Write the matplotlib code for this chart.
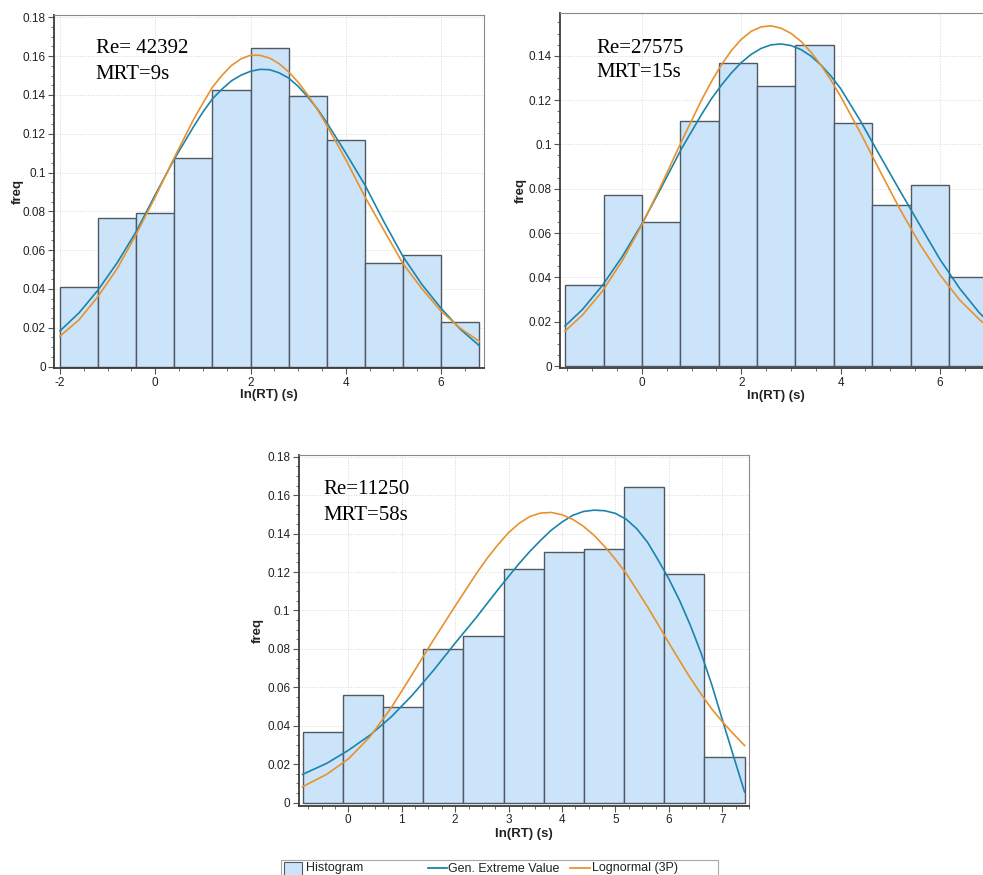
import numpy as np
import matplotlib
matplotlib.use("Agg")
import matplotlib.pyplot as plt
from matplotlib.ticker import MultipleLocator, FuncFormatter
from matplotlib.patches import Rectangle
from matplotlib.lines import Line2D

plt.rcParams["font.family"] = ["Liberation Sans", "DejaVu Sans"]

# ---- panel 1 : Re = 42392 ----
edges1 = [-2.0, -1.2, -0.4, 0.4, 1.2, 2.0, 2.8, 3.6, 4.4, 5.2, 6.0, 6.8]
freq1 = [0.041, 0.0766, 0.079, 0.1073, 0.1426, 0.164, 0.1396, 0.117, 0.0532, 0.0574, 0.023]
x1 = [-2.0, -1.6, -1.2, -0.8, -0.4, 0.0, 0.4, 0.8,
      1.0, 1.2, 1.4, 1.6, 1.8, 2.0, 2.2, 2.4, 2.6, 2.8, 3.0, 3.2, 3.4,
      3.6, 4.0, 4.4, 4.8, 5.2, 5.6, 6.0, 6.4, 6.8]
gev1 = [0.0184, 0.0277, 0.0395, 0.0535, 0.0696, 0.0886, 0.1070, 0.1235,
        0.1312, 0.1380, 0.1430, 0.1473, 0.1502, 0.1522, 0.1532, 0.1530, 0.1514, 0.1487, 0.1444, 0.1390, 0.1329,
        0.1257, 0.1100, 0.0936, 0.0746, 0.0567, 0.0422, 0.0300, 0.0193, 0.0108]
logn1 = [0.0157, 0.0241, 0.0362, 0.0505, 0.0682, 0.0875, 0.1078, 0.1272,
         0.1358, 0.1440, 0.1501, 0.1552, 0.1586, 0.1605, 0.1604, 0.1590, 0.1561, 0.1519, 0.1465, 0.1400, 0.1326,
         0.1243, 0.1066, 0.0875, 0.0702, 0.0530, 0.0400, 0.0285, 0.0198, 0.0130]

# ---- panel 2 : Re = 27575 ----
edges2 = [-1.546, -0.773, 0.0, 0.773, 1.546, 2.319, 3.092, 3.865, 4.638, 5.411, 6.184, 6.957]
freq2 = [0.0365, 0.0773, 0.0651, 0.1106, 0.1367, 0.1264, 0.1448, 0.1097, 0.0728, 0.0815, 0.0402]
x2 = [-1.55, -1.2, -0.8, -0.4, 0.0, 0.4, 0.8,
      1.2, 1.4, 1.6, 1.8, 2.0, 2.2, 2.4, 2.6, 2.8, 3.0, 3.2, 3.4, 3.6, 3.8, 4.0,
      4.4, 4.8, 5.2, 5.6, 6.0, 6.4, 6.8, 6.96]
gev2 = [0.0181, 0.0255, 0.0363, 0.0493, 0.0642, 0.0810, 0.0982,
        0.1135, 0.1206, 0.1267, 0.1322, 0.1369, 0.1406, 0.1433, 0.1449, 0.1453, 0.1446, 0.1428, 0.1399, 0.1359,
        0.1310, 0.1252,
        0.1106, 0.0946, 0.0789, 0.0635, 0.0482, 0.0350, 0.0239, 0.0204]
logn2 = [0.0158, 0.0230, 0.0337, 0.0474, 0.0638, 0.0822, 0.1015,
         0.1200, 0.1284, 0.1359, 0.1423, 0.1474, 0.1510, 0.1530, 0.1535, 0.1524, 0.1501, 0.1465, 0.1417, 0.1359,
         0.1292, 0.1217,
         0.1052, 0.0877, 0.0706, 0.0549, 0.0412, 0.0298, 0.0209, 0.0179]

# ---- panel 3 : Re = 11250 ----
edges3 = [-0.855, -0.103, 0.649, 1.401, 2.153, 2.905, 3.657, 4.409, 5.161, 5.913, 6.665, 7.417]
freq3 = [0.0369, 0.0558, 0.0496, 0.0799, 0.0869, 0.1214, 0.1302, 0.1318, 0.1642, 0.1191, 0.0236]
x3 = [-0.855, -0.4, 0.0, 0.4, 0.8, 1.2, 1.6, 2.0, 2.4,
      2.6, 2.8, 3.0, 3.2, 3.4, 3.6, 3.8, 4.0, 4.2, 4.4, 4.6, 4.8, 5.0, 5.2,
      5.4, 5.6, 5.8, 6.0, 6.2, 6.4, 6.6, 6.8, 7.0, 7.2, 7.417]
gev3 = [0.0147, 0.0205, 0.0272, 0.0350, 0.0445, 0.0560, 0.0690, 0.0830, 0.0965,
        0.1037, 0.1108, 0.1177, 0.1245, 0.1308, 0.1365, 0.1418, 0.1460, 0.1495, 0.1515, 0.1522, 0.1519, 0.1505,
        0.1475, 0.1425, 0.1355, 0.1262, 0.1164, 0.1052, 0.0924, 0.0780, 0.0616, 0.0432, 0.0250, 0.0055]
logn3 = [0.0083, 0.0148, 0.0227, 0.0341, 0.0492, 0.0669, 0.0849, 0.1023, 0.1193,
         0.1272, 0.1342, 0.1405, 0.1454, 0.1489, 0.1507, 0.1510, 0.1498, 0.1474, 0.1438, 0.1391, 0.1332, 0.1266,
         0.1193, 0.1107, 0.1019, 0.0926, 0.0831, 0.0739, 0.0649, 0.0566, 0.0488, 0.0421, 0.0360, 0.0297]

labels = [("Re= 42392", "MRT=9s"), ("Re=27575", "MRT=15s"), ("Re=11250", "MRT=58s")]

BAR_FACE = "#cce4fa"
BAR_EDGE = "#4f5963"
GEV_COLOR = "#1a84ab"
LOGN_COLOR = "#e8922c"

W, H = 983, 875
fig = plt.figure(figsize=(W / 100, H / 100), dpi=100)


def fx(px):
    return px / W


def fy(py):
    return 1 - py / H


def make_axes(left, top, right, bottom):
    return fig.add_axes([fx(left), fy(bottom), (right - left) / W, (bottom - top) / H])


def draw_panel(ax, edges, freq, x, gev, logn, xlim, ylim, xmajor, xminor, ymax_tick,
               ylab_x, xlab_y):
    edges = np.array(edges)
    ax.bar(edges[:-1], freq, width=np.diff(edges), align="edge",
           color=BAR_FACE, edgecolor=BAR_EDGE, linewidth=1.0, zorder=2)
    ax.plot(x, gev, color=GEV_COLOR, lw=1.2, zorder=3)
    ax.plot(x, logn, color=LOGN_COLOR, lw=1.2, zorder=3)
    ax.set_xlim(*xlim)
    ax.set_ylim(*ylim)
    ax.xaxis.set_major_locator(MultipleLocator(xmajor))
    ax.xaxis.set_minor_locator(MultipleLocator(xminor))
    ax.set_yticks(np.arange(0, ymax_tick + 0.001, 0.02))
    ax.yaxis.set_minor_locator(MultipleLocator(0.005))
    fmt = FuncFormatter(lambda v, p: f"{round(v, 4):g}")
    ax.yaxis.set_major_formatter(fmt)
    ax.xaxis.set_major_formatter(fmt)
    ax.grid(True, which="major", color="#d8d8d8", linestyle=":", linewidth=0.7, zorder=0)
    ax.set_axisbelow(True)
    ax.tick_params(which="both", direction="out", colors="#555555", labelcolor="#222222",
                   labelsize=8.5, pad=2)
    ax.tick_params(which="major", length=4, width=0.8)
    ax.tick_params(which="minor", length=2, width=0.6)
    for s in ("left", "bottom"):
        ax.spines[s].set_color("#3c3c3c")
        ax.spines[s].set_linewidth(1.3)
    for s in ("top", "right"):
        ax.spines[s].set_color("#8a8a8a")
        ax.spines[s].set_linewidth(0.8)
    ax.set_xlabel("ln(RT) (s)", fontsize=9.5, fontweight="bold", color="#222222")
    ax.set_ylabel("freq", fontsize=9.5, fontweight="bold", color="#222222")
    ax.yaxis.set_label_coords(ylab_x, 0.5)
    ax.xaxis.set_label_coords(0.5, xlab_y)


ax1 = make_axes(54.3, 15, 484, 368.3)
draw_panel(ax1, edges1, freq1, x1, gev1, logn1, (-2.12, 6.90), (-0.0009, 0.1812), 2, 0.5, 0.18,
           -0.0705, -0.0586)

ax2 = make_axes(560, 12.7, 992, 368.3)
draw_panel(ax2, edges2, freq2, x2, gev2, logn2, (-1.651, 7.05), (-0.001, 0.1594), 2, 0.5, 0.14,
           -0.0764, -0.0616)

ax3 = make_axes(298.7, 455, 749.3, 805.7)
draw_panel(ax3, edges3, freq3, x3, gev3, logn3, (-0.928, 7.505), (-0.0016, 0.1809), 1, 0.25, 0.18,
           -0.077, -0.0644)

# annotations (Times-like serif)
text_pos = [(95.7, 53.3, 79), (596, 53.3, 77), (323, 494, 520)]
for (l1, l2), (px, py1, py2) in zip(labels, text_pos):
    fig.text(fx(px), fy(py1), l1, family=["Liberation Serif", "DejaVu Serif"], fontsize=15,
             va="baseline", ha="left", color="black")
    fig.text(fx(px), fy(py2), l2, family=["Liberation Serif", "DejaVu Serif"], fontsize=15,
             va="baseline", ha="left", color="black")

# legend box at the bottom (cut off by the image edge as in the original)
fig.add_artist(Rectangle((fx(281), fy(885)), (718 - 281) / W, (885 - 860) / H,
                         transform=fig.transFigure, facecolor="white", edgecolor="#a8a8a8",
                         linewidth=0.8))
fig.add_artist(Rectangle((fx(283.5), fy(880)), (301.5 - 283.5) / W, (880 - 862) / H,
                         transform=fig.transFigure, facecolor=BAR_FACE, edgecolor=BAR_EDGE,
                         linewidth=0.8))
fig.text(fx(306), fy(868.5), "Histogram", fontsize=9, va="center", ha="left", color="#222222")
fig.add_artist(Line2D([fx(428), fx(447)], [fy(868), fy(868)], transform=fig.transFigure,
                      color=GEV_COLOR, lw=1.3))
fig.text(fx(448.5), fy(868.5), "Gen. Extreme Value", fontsize=9, va="center", ha="left", color="#222222")
fig.add_artist(Line2D([fx(570), fx(590)], [fy(868), fy(868)], transform=fig.transFigure,
                      color=LOGN_COLOR, lw=1.3))
fig.text(fx(591.5), fy(868.5), "Lognormal (3P)", fontsize=9, va="center", ha="left", color="#222222")

fig.savefig("out.png", dpi=100)
